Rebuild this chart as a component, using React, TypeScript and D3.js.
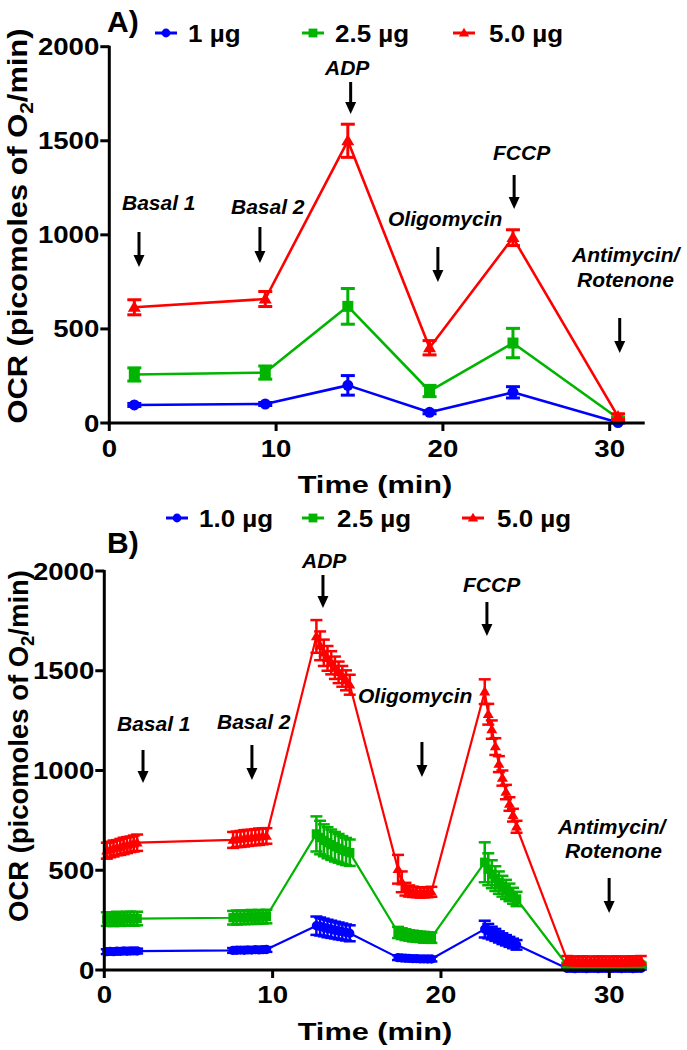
import React from 'react';
import * as d3 from 'd3';

const FONT = '"Liberation Sans", Arial, Helvetica, sans-serif';
const BLUE = '#0000ff';
const GREEN = '#00b400';
const RED = '#ff0000';

const yTicks = [0, 500, 1000, 1500, 2000];
const xTicks = [0, 10, 20, 30];
const legendA = ['1 µg', '2.5 µg', '5.0 µg'];
const legendB = ['1.0 µg', '2.5 µg', '5.0 µg'];

// ---------- Panel A data ----------
const timeA = [1.5, 9.35, 14.3, 19.2, 24.2, 30.5];
const blueA = [96, 101, 200, 57, 163, 2];
const blueErrA = [8, 8, 52, 8, 30, 3];
const greenA = [258, 268, 620, 170, 425, 25];
const greenErrA = [35, 35, 95, 30, 78, 6];
const redA = [615, 659, 1500, 400, 985, 34];
const redErrA = [40, 40, 88, 38, 42, 15];

// ---------- Panel B data ----------
const timeB = [
  0.15, 0.35, 0.55, 0.75, 0.95, 1.15, 1.35, 1.55, 1.75, 1.95,
  7.65, 7.87, 8.09, 8.31, 8.53, 8.75, 8.97, 9.19, 9.41, 9.63,
  12.6, 12.82, 13.04, 13.26, 13.48, 13.7, 13.92, 14.14, 14.36, 14.58,
  17.45, 17.67, 17.89, 18.11, 18.33, 18.55, 18.77, 18.99, 19.21, 19.43,
  22.6, 22.81, 23.02, 23.23, 23.44, 23.65, 23.86, 24.07, 24.28, 24.49,
  27.5, 27.73, 27.96, 28.19, 28.42, 28.65, 28.88, 29.11, 29.34, 29.57,
  29.8, 30.03, 30.26, 30.49, 30.72, 30.95, 31.18, 31.41, 31.64, 31.87,
];
const redB = [
  598, 604, 609, 613, 617, 622, 626, 630, 634, 638,
  652, 655, 657, 660, 662, 664, 666, 668, 670, 672,
  1672, 1625, 1590, 1562, 1540, 1515, 1492, 1472, 1452, 1430,
  505, 442, 405, 396, 392, 390, 388, 388, 390, 392,
  1395, 1282, 1205, 1120, 1032, 962, 892, 832, 776, 718,
  48, 46, 45, 44, 46, 45, 44, 45, 46, 45,
  44, 45, 46, 45, 44, 45, 46, 47, 46, 48,
];
const redErrB = [
  40, 39, 40, 38, 40, 41, 40, 39, 40, 41,
  40, 39, 40, 41, 40, 39, 40, 41, 40, 39,
  82, 72, 66, 62, 58, 56, 54, 52, 50, 50,
  72, 52, 32, 28, 26, 25, 25, 24, 25, 25,
  62, 52, 46, 42, 40, 38, 36, 34, 32, 30,
  22, 22, 21, 22, 23, 22, 21, 22, 22, 23,
  22, 21, 22, 23, 22, 21, 22, 22, 23, 22,
];
const greenB = [
  255, 256, 254, 257, 255, 256, 258, 257, 256, 258,
  262, 263, 264, 263, 265, 266, 265, 267, 266, 268,
  682, 664, 650, 638, 628, 618, 610, 601, 594, 588,
  188, 182, 177, 173, 170, 168, 166, 164, 163, 162,
  540, 505, 480, 458, 438, 420, 404, 389, 372, 356,
  24, 23, 24, 23, 24, 25, 24, 23, 24, 25,
  24, 23, 24, 25, 24, 23, 24, 25, 24, 25,
];
const greenErrB = [
  34, 33, 34, 35, 34, 33, 34, 35, 34, 34,
  34, 35, 34, 33, 34, 35, 34, 34, 33, 34,
  88, 84, 80, 78, 76, 74, 72, 70, 68, 66,
  28, 27, 27, 26, 27, 26, 26, 27, 26, 26,
  100, 80, 70, 62, 56, 52, 48, 44, 40, 36,
  12, 12, 11, 12, 12, 11, 12, 12, 11, 12,
  12, 11, 12, 12, 11, 12, 12, 11, 12, 12,
];
const blueB = [
  92, 93, 92, 94, 93, 95, 94, 95, 96, 95,
  98, 99, 100, 99, 101, 100, 102, 101, 102, 103,
  222, 218, 213, 208, 204, 200, 196, 192, 188, 184,
  62, 60, 59, 58, 57, 57, 56, 56, 55, 55,
  205, 195, 185, 176, 166, 157, 149, 141, 133, 126,
  8, 8, 7, 8, 8, 7, 8, 8, 7, 8,
  8, 7, 8, 8, 7, 8, 8, 7, 8, 8,
];
const blueErrB = [
  12, 11, 12, 12, 11, 12, 12, 11, 12, 12,
  12, 12, 11, 12, 12, 11, 12, 12, 11, 12,
  46, 45, 44, 44, 43, 42, 42, 41, 40, 40,
  12, 11, 12, 12, 11, 12, 12, 11, 12, 12,
  42, 36, 32, 30, 28, 27, 26, 25, 24, 24,
  6, 6, 5, 6, 6, 5, 6, 6, 5, 6,
  6, 5, 6, 6, 5, 6, 6, 5, 6, 6,
];

// annotations: label positions (px) and arrows (time, y-start px, y-end px)
const labelsA = [
  { t: 'Basal 1', x: 122, y: 210 }, { t: 'Basal 2', x: 231, y: 214 },
  { t: 'ADP', x: 325, y: 75 }, { t: 'Oligomycin', x: 388, y: 226 },
  { t: 'FCCP', x: 493, y: 160 }, { t: 'Antimycin/', x: 572, y: 262 },
  { t: 'Rotenone', x: 577, y: 287 },
];
const arrowsA = [
  [1.78, 232, 267], [9.03, 227, 263], [14.47, 82, 114],
  [19.7, 247, 282], [24.27, 175, 209], [30.6, 318, 353],
];
const labelsB = [
  { t: 'ADP', x: 302, y: 568 }, { t: 'Basal 1', x: 117, y: 731 },
  { t: 'Basal 2', x: 217, y: 729 }, { t: 'Oligomycin', x: 358, y: 703 },
  { t: 'FCCP', x: 463, y: 592 }, { t: 'Antimycin/', x: 558, y: 834 },
  { t: 'Rotenone', x: 565, y: 858 },
];
const arrowsB = [
  [12.99, 575, 608], [2.3, 750, 783], [8.77, 745, 780],
  [18.87, 742, 777], [22.73, 602, 636], [29.99, 878, 913],
];

type Shape = 'circle' | 'square' | 'triangle';

function Marker({ shape, x, y, k, color }: { shape: Shape; x: number; y: number; k: number; color: string }) {
  if (shape === 'circle') return <circle cx={x} cy={y} r={5.5 * k} fill={color} />;
  if (shape === 'square') {
    const s = 11 * k;
    return <rect x={x - s / 2} y={y - s / 2} width={s} height={s} fill={color} />;
  }
  const w = 13 * k, h = 11 * k;
  return <polygon points={`${x},${y - h * 0.6} ${x + w / 2},${y + h * 0.4} ${x - w / 2},${y + h * 0.4}`} fill={color} />;
}

function Txt({ x, y, s = 1, size, anchor = 'start', italic = false, rotate = 0, children }: any) {
  return (
    <text
      transform={`translate(${x},${y}) rotate(${rotate}) scale(${s},1)`}
      textAnchor={anchor}
      fontSize={size}
      fontWeight="bold"
      fontStyle={italic ? 'italic' : 'normal'}
      fontFamily={FONT}
      fill="#000"
    >
      {children}
    </text>
  );
}

function Arrow({ x, y1, y2 }: { x: number; y1: number; y2: number }) {
  const hl = 12, hw = 5.5;
  return (
    <g>
      <line x1={x} x2={x} y1={y1} y2={y2 - hl + 1} stroke="#000" strokeWidth={3} />
      <polygon points={`${x - hw},${y2 - hl} ${x + hw},${y2 - hl} ${x},${y2}`} fill="#000" />
    </g>
  );
}

type SeriesDef = { color: string; shape: Shape; values: number[]; errs: number[] };

function Panel({
  x, y, times, series, k, lw, cap, ew, xEnd, tickBase, titleBase, yTitleX, yTitleY, yTitleS,
  letter, letterY, legend, legendY, legendMk, legendTx, labels, arrows,
}: any) {
  const line = d3.line<number>().x((_, i) => x(times[i])).y((v) => y(v));
  const x0 = x(0);
  const y0 = y(0);
  return (
    <g>
      {series.map((s: SeriesDef, si: number) => (
        <g key={si}>
          <path d={line(s.values) || ''} fill="none" stroke={s.color} strokeWidth={lw} strokeLinejoin="round" />
          {s.values.map((v, i) => {
            const px = x(times[i]);
            const top = y(v + s.errs[i]);
            const bot = y(Math.max(0, v - s.errs[i]));
            return (
              <g key={i}>
                <line x1={px} x2={px} y1={top} y2={bot} stroke={s.color} strokeWidth={ew} />
                <line x1={px - cap / 2} x2={px + cap / 2} y1={top} y2={top} stroke={s.color} strokeWidth={ew} />
                <line x1={px - cap / 2} x2={px + cap / 2} y1={bot} y2={bot} stroke={s.color} strokeWidth={ew} />
                <Marker shape={s.shape} x={px} y={y(v)} k={k} color={s.color} />
              </g>
            );
          })}
        </g>
      ))}
      <line x1={x0} x2={x0} y1={y(2000) - 1} y2={y0 + 1.5} stroke="#000" strokeWidth={3} />
      <line x1={x0 - 1.5} x2={x(xEnd)} y1={y0} y2={y0} stroke="#000" strokeWidth={3} />
      {yTicks.map((t) => (
        <g key={'y' + t}>
          <line x1={x0 - 9} x2={x0} y1={y(t)} y2={y(t)} stroke="#000" strokeWidth={3} />
          <Txt x={x0 - 10} y={y(t) + 8.5} s={1.2} size={23} anchor="end">{t}</Txt>
        </g>
      ))}
      {xTicks.map((t) => (
        <g key={'x' + t}>
          <line x1={x(t)} x2={x(t)} y1={y0} y2={y0 + 8} stroke="#000" strokeWidth={3} />
          <Txt x={x(t)} y={tickBase} s={1.2} size={23} anchor="middle">{t}</Txt>
        </g>
      ))}
      <Txt x={375} y={titleBase} s={1.28} size={24} anchor="middle">Time (min)</Txt>
      <Txt x={yTitleX} y={yTitleY} s={yTitleS} size={28} anchor="middle" rotate={-90}>
        OCR (picomoles of O<tspan dy={6} fontSize={19}>2</tspan><tspan dy={-6}>/min)</tspan>
      </Txt>
      <Txt x={107} y={letterY} size={30}>{letter}</Txt>
      {series.map((s: SeriesDef, i: number) => (
        <g key={'lg' + i}>
          <line x1={legendMk[i] - 11} x2={legendMk[i] + 11} y1={legendY} y2={legendY} stroke={s.color} strokeWidth={3} />
          <Marker shape={s.shape} x={legendMk[i]} y={legendY} k={0.8} color={s.color} />
          <Txt x={legendTx[i]} y={legendY + 8.5} s={1.13} size={23}>{legend[i]}</Txt>
        </g>
      ))}
      {labels.map((l: any, i: number) => (
        <Txt key={'lb' + i} x={l.x} y={l.y} size={21} italic>{l.t}</Txt>
      ))}
      {arrows.map((a: number[], i: number) => (
        <Arrow key={'ar' + i} x={x(a[0])} y1={a[1]} y2={a[2]} />
      ))}
    </g>
  );
}

export default function App() {
  const xA = d3.scaleLinear().domain([0, 30]).range([109.3, 609.7]);
  const yA = d3.scaleLinear().domain([0, 2000]).range([423, 46.7]);
  const xB = d3.scaleLinear().domain([0, 30]).range([104.3, 609.3]);
  const yB = d3.scaleLinear().domain([0, 2000]).range([970, 571]);

  const seriesA: SeriesDef[] = [
    { color: BLUE, shape: 'circle', values: blueA, errs: blueErrA },
    { color: GREEN, shape: 'square', values: greenA, errs: greenErrA },
    { color: RED, shape: 'triangle', values: redA, errs: redErrA },
  ];
  const seriesB: SeriesDef[] = [
    { color: BLUE, shape: 'circle', values: blueB, errs: blueErrB },
    { color: GREEN, shape: 'square', values: greenB, errs: greenErrB },
    { color: RED, shape: 'triangle', values: redB, errs: redErrB },
  ];

  return (
    <svg width={687} height={1050} style={{ position: 'absolute', left: 0, top: 0, background: '#fff' }}>
      <rect width={687} height={1050} fill="#fff" />
      <Panel
        x={xA} y={yA} times={timeA} series={seriesA} k={1} lw={2.6} cap={14} ew={3} xEnd={32.1}
        tickBase={457} titleBase={493} yTitleX={27} yTitleY={226} yTitleS={1.1}
        letter="A)" letterY={32} legend={legendA} legendY={33} legendMk={[166, 313, 464]} legendTx={[188, 335, 489]}
        labels={labelsA} arrows={arrowsA}
      />
      <Panel
        x={xB} y={yB} times={timeB} series={seriesB} k={0.85} lw={2.2} cap={12} ew={2.5} xEnd={32.1}
        tickBase={1003} titleBase={1040} yTitleX={28} yTitleY={746} yTitleS={0.98}
        letter="B)" letterY={553} legend={legendB} legendY={518} legendMk={[177, 313, 473]} legendTx={[199, 337, 497]}
        labels={labelsB} arrows={arrowsB}
      />
    </svg>
  );
}
